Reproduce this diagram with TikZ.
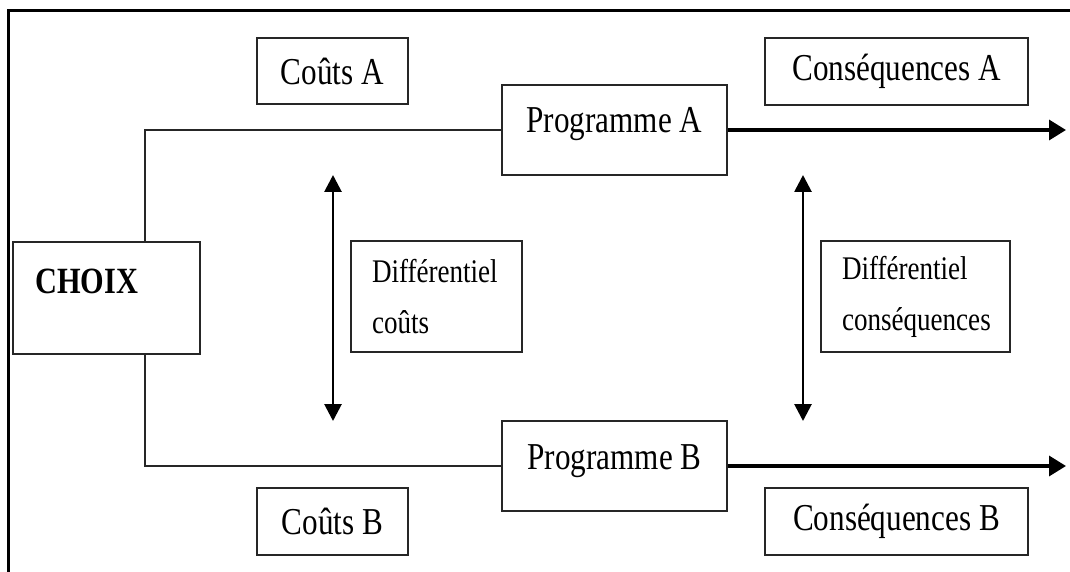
\documentclass[tikz,border=0pt]{standalone}
\usepackage{fontspec}
\setmainfont{Liberation Serif}[FakeStretch=0.82]
\usetikzlibrary{arrows.meta}
\begin{document}
\begin{tikzpicture}[x=1pt,y=-1pt,
  box/.style={draw=black!85,line width=2.2pt,inner sep=0pt,font=\fontsize{38}{44}\selectfont},
  progbox/.style={box,minimum width=225pt,minimum height=90pt,text height=25pt,text depth=19pt},
  diffbox/.style={draw=black!85,line width=2.2pt,align=left,inner xsep=21pt,inner ysep=0pt,font=\fontsize{33}{51}\selectfont},
  conn/.style={draw=black!85,line width=2.4pt},
  bigarrow/.style={line width=3.4pt,-{Triangle[length=17pt,width=20pt]}},
  darrow/.style={line width=2.8pt,{Triangle[length=17pt,width=17pt]}-{Triangle[length=17pt,width=17pt]}},
  frameline/.style={line width=3pt}]
\useasboundingbox (0,0) rectangle (1070,572);
\fill[white] (0,0) rectangle (1070,572);
% frame
\coordinate (fbl) at (8,572);
\coordinate (ftl) at (8,11);
\coordinate (ftr) at (1070,11);
\draw[frameline] (fbl) -- (ftl) -- (ftr);
% nodes
\node[box,minimum width=151pt,minimum height=66pt] (coutsA) at (332.5,71) {Coûts A\hspace{10pt}};
\node[progbox] (progA) at (614.5,130) {Programme A\hspace{10pt}};
\node[box,minimum width=263pt,minimum height=67pt] (consA) at (896.5,71.5) {Conséquences A\hspace{14pt}};
\node[box,minimum width=187pt,minimum height=112pt] (choix) at (106.5,298) {};
\node[anchor=west,inner sep=0pt,font=\fontsize{37}{44}\selectfont\bfseries] (choixt) at (35,281) {CHOIX};
\node[diffbox,minimum width=171pt,minimum height=111pt,text width=129pt] (diffC) at (436.5,296.5) {Différentiel\\coûts};
\node[diffbox,minimum width=189pt,minimum height=111pt,text width=147pt] (diffQ) at (915.5,296.5) {Différentiel\\conséquences};
\node[progbox] (progB) at (614.5,466) {Programme B\hspace{10pt}};
\node[box,minimum width=151pt,minimum height=67pt] (coutsB) at (332.5,521.5) {Coûts B\hspace{10pt}};
\node[box,minimum width=263pt,minimum height=67pt] (consB) at (896.5,521.5) {Conséquences B\hspace{14pt}};
% connectors
\coordinate (cx) at (145,0);
\draw[conn] (choix.north -| cx) |- (progA.west);
\draw[conn] (choix.south -| cx) |- (progB.west);
\coordinate (endA) at (1066,130);
\coordinate (endB) at (1066,466);
\draw[bigarrow] (progA.east) -- (endA);
\draw[bigarrow] (progB.east) -- (endB);
\coordinate (d1t) at (333,175);
\coordinate (d1b) at (333,421);
\coordinate (d2t) at (803,175);
\coordinate (d2b) at (803,421);
\draw[darrow] (d1t) -- (d1b);
\draw[darrow] (d2t) -- (d2b);
\end{tikzpicture}
\end{document}
